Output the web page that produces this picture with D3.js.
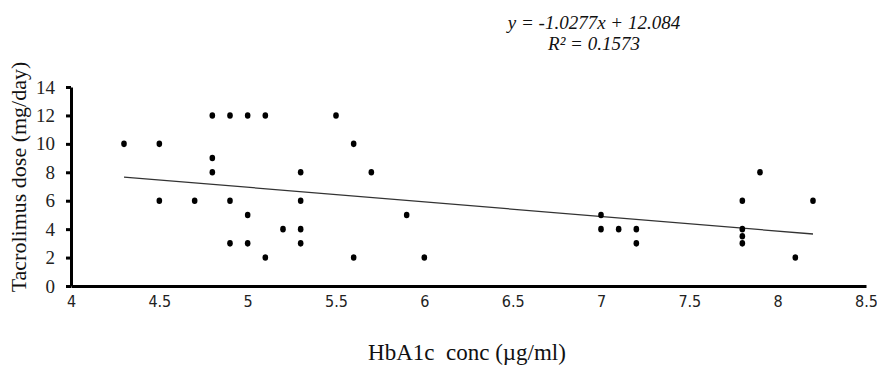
<!DOCTYPE html>
<html>
<head>
<title>Tacrolimus vs HbA1c</title>
<script src="https://d3js.org/d3.v7.min.js"></script>
<style>
body, html {
  margin: 0;
  padding: 0;
  background: #fff;
}
svg {
  display: block;
}
</style>
</head>
<body>

<svg id="chart" width="877" height="367"></svg>

<script>

// values
const hba1c = [4.3, 4.5, 4.5, 4.7, 4.8, 4.8, 4.8, 4.9, 4.9, 4.9, 5.0, 5.0, 5.0,
               5.1, 5.1, 5.2, 5.3, 5.3, 5.3, 5.3, 5.5, 5.6, 5.6, 5.7, 5.9, 6.0,
               7.0, 7.0, 7.1, 7.2, 7.2, 7.8, 7.8, 7.8, 7.8, 7.9, 8.1, 8.2];
const dose  = [10, 10, 6, 6, 12, 9, 8, 12, 6, 3, 12, 5, 3,
               12, 2, 4, 8, 6, 4, 3, 12, 10, 2, 8, 5, 2,
               5, 4, 4, 4, 3, 6, 4, 3.5, 3, 8, 2, 6];

const xTicks = [4, 4.5, 5, 5.5, 6, 6.5, 7, 7.5, 8, 8.5];
const yTicks = [0, 2, 4, 6, 8, 10, 12, 14];

const slope = -1.0277;
const intercept = 12.084;
const equationLines = ["y = -1.0277x + 12.084", "R\u00b2 = 0.1573"];

function drawChart() {
  const svg = d3.select("#chart");

  let xScale = d3.scaleLinear().domain([4, 8.5]).range([71, 866]);
  let yScale = d3.scaleLinear().domain([0, 14]).range([286, 87]);

  // x axis: labels only, thick domain line
  let xAxis = d3.axisBottom(xScale)
                .tickValues(xTicks)
                .tickFormat(d3.format("~g"))
                .tickSize(0)
                .tickPadding(10);

  let gx = svg.append("g")
     .attr("transform", "translate(0,286)")
     .call(xAxis);
  gx.select(".domain").attr("stroke", "#000").attr("stroke-width", 3);
  gx.selectAll("text")
     .style("font-family", "'Liberation Sans Narrow', 'DejaVu Sans Condensed', sans-serif")
     .style("font-size", "16px")
     .attr("fill", "#222");

  // y axis with outside ticks
  let yAxis = d3.axisLeft(yScale)
                .tickValues(yTicks)
                .tickSize(5)
                .tickSizeOuter(0)
                .tickPadding(11);

  let gy = svg.append("g")
     .attr("transform", "translate(71,0)")
     .call(yAxis);
  gy.selectAll(".domain, line").attr("stroke", "#000").attr("stroke-width", 3);
  gy.selectAll("text")
     .style("font-family", "'Liberation Serif', 'Times New Roman', serif")
     .style("font-size", "19px")
     .attr("fill", "#222");

  // trend line over the data range
  let ext = d3.extent(hba1c);
  let trend = ext.map(x => ({ x: x, y: slope * x + intercept }));
  svg.append("path")
     .attr("fill", "none")
     .attr("stroke", "#333")
     .attr("stroke-width", 1.3)
     .attr("d", d3.line().x(d => xScale(d.x)).y(d => yScale(d.y))(trend));

  // points
  svg.append("g")
     .selectAll("ellipse")
     .data(hba1c.map((x, i) => ({ x: x, y: dose[i] })))
     .join("ellipse")
       .attr("cx", d => xScale(d.x))
       .attr("cy", d => yScale(d.y))
       .attr("rx", 2.8)
       .attr("ry", 3.3)
       .attr("fill", "#000");

  // axis titles
  svg.append("text")
     .attr("x", 467)
     .attr("y", 360)
     .attr("text-anchor", "middle")
     .style("font-family", "'Liberation Serif', 'Times New Roman', serif")
     .style("font-size", "23px")
     .style("white-space", "pre")
     .attr("fill", "#111")
     .text("HbA1c  conc (\u00b5g/ml)");

  svg.append("text")
     .attr("transform", "translate(26,177) rotate(-90)")
     .attr("text-anchor", "middle")
     .style("font-family", "'Liberation Serif', 'Times New Roman', serif")
     .style("font-size", "22px")
     .attr("fill", "#111")
     .text("Tacrolimus dose (mg/day)");

  // regression equation
  svg.append("g")
     .selectAll("text")
     .data(equationLines)
     .join("text")
       .attr("x", 594)
       .attr("y", (d, i) => 29 + i * 21)
       .attr("text-anchor", "middle")
       .style("font-family", "'Liberation Serif', 'Times New Roman', serif")
       .style("font-style", "italic")
       .style("font-size", "19px")
       .attr("fill", "#111")
       .text(d => d);
}

drawChart();

</script>
</body>
</html>
